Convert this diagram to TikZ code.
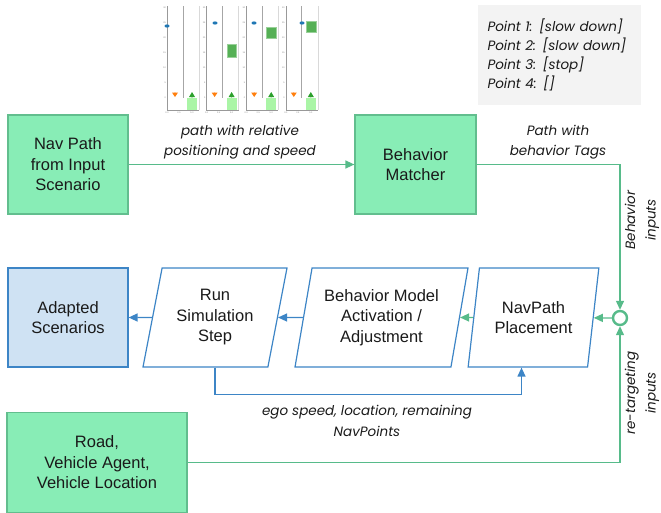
\documentclass[tikz,border=0pt]{standalone}
\usepackage{fontspec}
\setmainfont{Liberation Sans}
\newfontfamily\lblfont{Poppins}
\usetikzlibrary{arrows.meta,shapes.geometric}
\definecolor{gfill}{HTML}{88EDB6}
\definecolor{gborder}{HTML}{62BE8E}
\definecolor{gline}{HTML}{57BB8A}
\definecolor{bfill}{HTML}{CFE2F3}
\definecolor{bline}{HTML}{3D85C6}
\definecolor{graybg}{HTML}{F3F3F3}
\definecolor{txt}{HTML}{1A1A1A}
\definecolor{pblue}{HTML}{1F77B4}
\definecolor{porange}{HTML}{FF7F0E}
\definecolor{pgreen}{HTML}{2CA02C}
\definecolor{plight}{HTML}{AAF5A6}
\definecolor{pdark}{HTML}{55B055}
\begin{document}
\begin{tikzpicture}[x=1pt,y=-1pt,
  mainfont/.style={font=\fontsize{16.5}{20.5}\selectfont},
  lbl/.style={font=\lblfont\itshape\fontsize{13.5}{20.5}\selectfont, text=txt, align=center, inner sep=0},
  gbox/.style={draw=gborder, fill=gfill, line width=1.2pt, minimum width=120pt, minimum height=99pt, inner sep=0, align=center, mainfont, text=txt},
  bbox/.style={draw=bline, fill=bfill, line width=1.2pt, minimum width=120pt, minimum height=99pt, inner sep=0, align=center, mainfont, text=txt},
  para/.style={trapezium, trapezium left angle=76, trapezium right angle=104, trapezium stretches=true, draw=bline, line width=1.2pt, fill=white, minimum height=99pt, inner sep=0, align=center, mainfont, text=txt},
  garrow/.style={draw=gline, line width=1.3pt, -{Triangle[length=9pt,width=8pt]}},
  barrow/.style={draw=bline, line width=1.3pt, -{Triangle[length=9pt,width=8pt]}},
  tick/.style={font=\fontsize{2.2}{2.5}\selectfont, text=gray, inner sep=0}
]
\useasboundingbox (0,0) rectangle (661,512);

% ---- small plots ----
\foreach \i/\bx/\by/\dy in {0/167/26/0, 1/215/23/44, 2/254/23/27, 3/302/23/21}{
  \pgfmathsetmacro{\L}{167+39.6*\i}
  \draw[gray!80, line width=0.4pt] (\L,6) -- (\L,110) -- (\L+32,110);
  \draw[gray!30, line width=0.6pt] (\L+32,6) -- (\L+32,110);
  \draw[gray!70, line width=1pt] (\L+16,6) -- (\L+16,98);
  \foreach \v/\yy in {30/8,25/23,20/38,15/53,10/68,5/83,0/98}{
    \node[tick, anchor=east] at (\L-1,\yy) {\v};
  }
  \node[tick] at (\L,113) {0.0};
  \node[tick] at (\L+12,113) {2.5};
  \node[tick] at (\L+25,113) {5.0};
  \fill[plight] (\L+20,98) rectangle (\L+30,110);
  \fill[pblue] (\bx,\by) ellipse (2.5pt and 1.6pt);
  \fill[porange] (\L+5,92.5) -- (\L+11,92.5) -- (\L+8,97) -- cycle;
  \fill[porange] (\L+8,94) circle (1.6pt);
  \fill[pgreen] (\L+22,97) -- (\L+28,97) -- (\L+25,92) -- cycle;
  \fill[pgreen] (\L+25,96) circle (1.5pt);
}
\foreach \L/\ya/\yb in {206.6/44/57, 246.2/27/38, 285.8/21/32}{
  \filldraw[fill=pdark, draw=pdark!60!white, line width=0.6pt] (\L+20.5,\ya) rectangle (\L+30,\yb);
}

% ---- point list ----
\node[fill=graybg, inner xsep=10pt, inner ysep=0, minimum height=100pt, text width=143pt, align=left,
      font=\lblfont\itshape\fontsize{13.5}{19}\selectfont, text=txt] (pts) at (559,55)
  {Point 1: [slow down]\\Point 2: [slow down]\\Point 3: [stop]\\Point 4: []};

% ---- nodes ----
\node[gbox] (nav) at (68,164.5) {Nav Path\\from Input\\Scenario};
\node[gbox, minimum width=121pt] (matcher) at (415.5,164.5) {Behavior\\Matcher};
\node[bbox] (adapted) at (68,317.5) {Adapted\\Scenarios};
\node[para, minimum width=144pt] (run) at (215,317.5) {Run\\Simulation\\Step};
\node[para, minimum width=173pt] (bm) at (381.5,317.5) {Behavior Model\\Activation /\\Adjustment};
\node[para, minimum width=131pt] (np) at (533.5,317.5) {NavPath\\Placement};
\node[gbox, minimum width=180pt, minimum height=100pt] (road) at (97,462.5) {Road,\\Vehicle Agent,\\Vehicle Location};
\node[circle, draw=gline, line width=2.4pt, fill=white, minimum size=14pt, inner sep=0] (junc) at (620,318) {};

% ---- connectors ----
\draw[garrow] (nav) -- (matcher);
\draw[garrow] (matcher.east) -| (junc);
\draw[garrow] (road.east) -| (junc);
\draw[garrow] (junc) -- (np);
\draw[garrow] (np) -- (bm);
\draw[barrow] (bm) -- (run);
\draw[barrow] (run) -- (adapted);
\coordinate (fbk) at ([xshift=-12pt]np.south);
\draw[barrow] (run.south) -- ++(0,27) -| (fbk);

% ---- labels ----
\node[lbl] (l1) at (240,142) {path with relative\\positioning and speed};
\node[lbl] (l2) at (558,142) {Path with\\behavior Tags};
\node[lbl, rotate=90] (l3) at (642,220) {Behavior\\inputs};
\node[lbl, rotate=90] (l4) at (642,393) {re-targeting\\inputs};
\node[lbl] (l5) at (367,421) {ego speed, location, remaining\\NavPoints};
\end{tikzpicture}
\end{document}
